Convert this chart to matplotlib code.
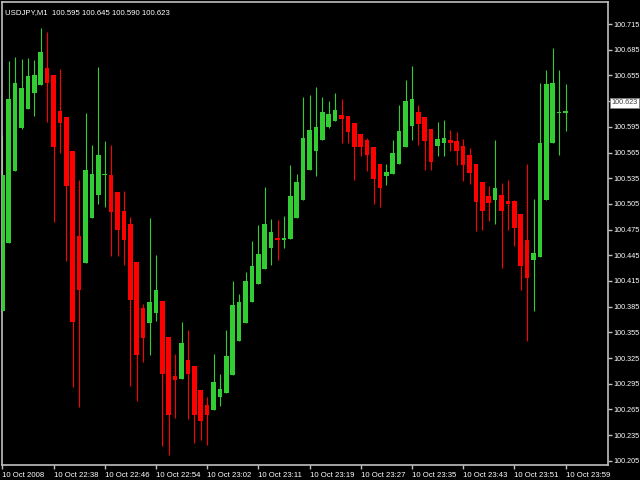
import numpy as np
import matplotlib
matplotlib.use("Agg")
import matplotlib.pyplot as plt

# USDJPY M1 bars (open, high, low, close)
opens = [100.380, 100.459, 100.543, 100.594, 100.616, 100.635, 100.644, 100.664, 100.655, 100.613,
         100.606, 100.567, 100.468, 100.436, 100.489, 100.515, 100.539, 100.539, 100.519, 100.497,
         100.481, 100.437, 100.383, 100.366, 100.378, 100.392, 100.350, 100.304, 100.301, 100.323,
         100.316, 100.288, 100.270, 100.264, 100.280, 100.284, 100.305, 100.345, 100.366, 100.391,
         100.412, 100.429, 100.454, 100.465, 100.463, 100.464, 100.489, 100.510, 100.545, 100.567,
         100.580, 100.595, 100.602, 100.609, 100.608, 100.599, 100.587, 100.580, 100.571, 100.552,
         100.538, 100.540, 100.552, 100.571, 100.596, 100.612, 100.606, 100.593, 100.573, 100.576,
         100.580, 100.578, 100.573, 100.562, 100.552, 100.530, 100.514, 100.510, 100.515, 100.508,
         100.508, 100.493, 100.463, 100.440, 100.443, 100.510, 100.576, 100.611, 100.611]
highs = [100.585, 100.672, 100.677, 100.674, 100.675, 100.673, 100.710, 100.706, 100.655, 100.662,
         100.606, 100.567, 100.533, 100.611, 100.574, 100.665, 100.579, 100.574, 100.519, 100.520,
         100.490, 100.437, 100.388, 100.489, 100.445, 100.392, 100.350, 100.330, 100.367, 100.358,
         100.316, 100.288, 100.280, 100.330, 100.307, 100.358, 100.415, 100.400, 100.425, 100.462,
         100.480, 100.525, 100.487, 100.486, 100.491, 100.550, 100.540, 100.630, 100.632, 100.641,
         100.630, 100.625, 100.635, 100.627, 100.608, 100.599, 100.587, 100.582, 100.571, 100.552,
         100.551, 100.580, 100.621, 100.650, 100.666, 100.620, 100.606, 100.593, 100.601, 100.603,
         100.591, 100.589, 100.581, 100.570, 100.552, 100.530, 100.526, 100.580, 100.529, 100.533,
         100.510, 100.493, 100.552, 100.511, 100.646, 100.661, 100.687, 100.661, 100.645]
lows = [100.380, 100.459, 100.543, 100.592, 100.616, 100.608, 100.644, 100.601, 100.484, 100.565,
        100.438, 100.291, 100.268, 100.436, 100.489, 100.505, 100.501, 100.444, 100.444, 100.434,
        100.293, 100.275, 100.320, 100.329, 100.368, 100.222, 100.212, 100.255, 100.301, 100.254,
        100.226, 100.229, 100.224, 100.264, 100.269, 100.284, 100.305, 100.345, 100.366, 100.391,
        100.412, 100.429, 100.434, 100.439, 100.454, 100.464, 100.489, 100.510, 100.545, 100.538,
        100.580, 100.594, 100.602, 100.576, 100.576, 100.533, 100.561, 100.543, 100.505, 100.501,
        100.527, 100.540, 100.552, 100.571, 100.580, 100.574, 100.545, 100.545, 100.561, 100.561,
        100.567, 100.550, 100.532, 100.528, 100.473, 100.474, 100.485, 100.482, 100.430, 100.475,
        100.456, 100.404, 100.345, 100.380, 100.443, 100.510, 100.576, 100.562, 100.590]
closes = [100.539, 100.628, 100.646, 100.640, 100.654, 100.655, 100.682, 100.646, 100.571, 100.599,
          100.526, 100.367, 100.404, 100.545, 100.540, 100.562, 100.540, 100.496, 100.475, 100.463,
          100.393, 100.329, 100.349, 100.391, 100.405, 100.306, 100.259, 100.300, 100.343, 100.307,
          100.259, 100.252, 100.258, 100.297, 100.289, 100.327, 100.387, 100.390, 100.415, 100.433,
          100.447, 100.481, 100.472, 100.463, 100.465, 100.514, 100.531, 100.582, 100.591, 100.595,
          100.612, 100.610, 100.615, 100.604, 100.589, 100.572, 100.571, 100.562, 100.534, 100.524,
          100.542, 100.565, 100.590, 100.625, 100.627, 100.598, 100.578, 100.554, 100.581, 100.582,
          100.576, 100.567, 100.550, 100.541, 100.507, 100.497, 100.506, 100.524, 100.497, 100.505,
          100.477, 100.432, 100.419, 100.448, 100.576, 100.645, 100.646, 100.612, 100.613]

time_labels = ["10 Oct 2008", "10 Oct 22:38", "10 Oct 22:46", "10 Oct 22:54", "10 Oct 23:02",
               "10 Oct 23:11", "10 Oct 23:19", "10 Oct 23:27", "10 Oct 23:35", "10 Oct 23:43",
               "10 Oct 23:51", "10 Oct 23:59"]
label_every = 8
price_ticks = np.round(np.arange(100.205, 100.716, 0.030), 3)
header = "USDJPY,M1  100.595 100.645 100.590 100.623"
bid = 100.623

BULL = "#32CD32"
BEAR = "#FF0000"
FRAME = "#C0C0C0"
FONT = "Liberation Sans"

o, h, l, c = map(np.array, (opens, highs, lows, closes))
idx = np.arange(len(o))
up = c >= o

fig = plt.figure(figsize=(6.4, 4.8), dpi=100, facecolor="black")
ax = fig.add_axes([2 / 640, 15 / 480, 606 / 640, 463 / 480], facecolor="black")

# wicks then bodies
ax.vlines(idx[up], l[up], h[up], color=BULL, lw=0.8, zorder=2)
ax.vlines(idx[~up], l[~up], h[~up], color=BEAR, lw=0.8, zorder=2)
body_lo = np.minimum(o, c)
body_h = np.maximum(np.abs(c - o), 0.0012)
ax.bar(idx[up], body_h[up], bottom=body_lo[up], width=0.72, color=BULL, zorder=3)
ax.bar(idx[~up], body_h[~up], bottom=body_lo[~up], width=0.72, color=BEAR, zorder=3)

ax.set_xlim(-0.05, 94.64)
ax.set_ylim(100.2002, 100.7407)

for sp in ax.spines.values():
    sp.set_color(FRAME)
    sp.set_linewidth(1.2)

ax.set_xticks(idx[::label_every])
ax.set_xticklabels(time_labels, ha="left", fontsize=5.6, color="white", family=FONT)
ax.tick_params(axis="x", colors=FRAME, length=3, width=1, pad=2, labelcolor="white")

# tick labels on the right; the one hidden behind the bid tag is left blank
ylabels = ["" if abs(v - bid) < 0.01 else f"{v:.3f}" for v in price_ticks]
ax.yaxis.tick_right()
ax.set_yticks(price_ticks)
ax.set_yticklabels(ylabels, fontsize=5.2, color="white", family=FONT)
ax.tick_params(axis="y", colors=FRAME, length=3, width=1, pad=1.2, labelcolor="white")

ax.text(0.005, 0.985, header, transform=ax.transAxes, ha="left", va="top",
        fontsize=5.6, color="white", family=FONT)

# bid price tag on the right axis
ax.annotate(f"{bid:.3f}", xy=(1, bid), xycoords=("axes fraction", "data"),
            xytext=(2.5, 0), textcoords="offset points", ha="left", va="center",
            fontsize=5.2, color="#404040", family=FONT,
            bbox=dict(boxstyle="square,pad=0.2", fc="white", ec="#808080", lw=0.6))

fig.savefig("out.png", dpi=100, facecolor="black")
